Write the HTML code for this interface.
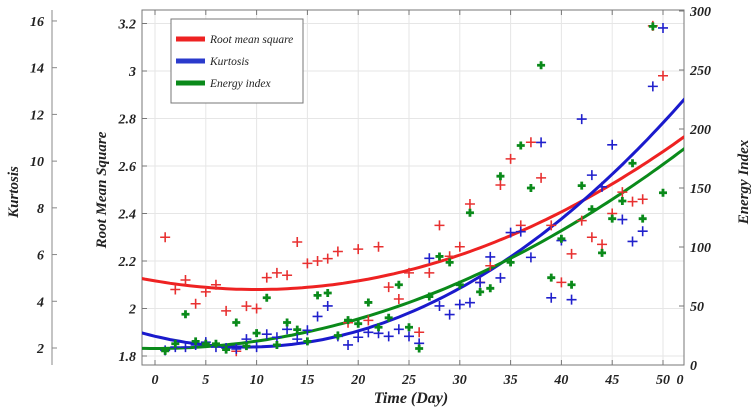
<!DOCTYPE html>
<html><head><meta charset="utf-8"><style>
body{margin:0;background:#fff}
svg{display:block;font-family:"Liberation Serif",serif;font-style:italic;font-weight:bold}
</style></head><body>
<svg id="c" width="756" height="410" viewBox="0 0 756 410"></svg>
<script>
const days=[1,2,3,4,5,6,7,8,9,10,11,12,13,14,15,16,17,18,19,20,21,22,23,24,25,26,27,28,29,30,31,32,33,34,35,36,37,38,39,40,41,42,43,44,45,46,47,48,49,50];
const rmsVals=[2.30,2.08,2.12,2.02,2.07,2.10,1.99,1.82,2.01,2.00,2.13,2.15,2.14,2.28,2.19,2.20,2.21,2.24,1.94,2.25,1.95,2.26,2.09,2.04,2.15,1.90,2.15,2.35,2.22,2.26,2.44,2.11,2.18,2.52,2.63,2.35,2.70,2.55,2.35,2.11,2.23,2.37,2.30,2.27,2.40,2.49,2.45,2.46,3.19,2.98];
const kurtVals=[1.9,2.04,2.04,2.13,2.25,2.04,2.0,1.96,2.38,2.04,2.59,2.46,2.8,2.38,2.76,3.35,3.8,2.5,2.13,2.46,2.67,2.63,2.5,2.8,2.5,2.2,5.84,3.8,3.43,3.86,3.94,4.8,5.9,5.0,6.94,6.98,5.88,10.8,4.15,6.6,4.07,11.8,9.4,8.9,10.7,7.5,6.56,7.0,13.2,15.7];
const energyVals=[12,18,43,20,18,18,13,36,16,27,57,17,36,30,20,59,61,25,38,35,53,32,40,68,32,14,58,92,87,68,129,62,65,160,87,186,150,254,74,107,68,152,132,95,124,139,171,124,287,146];
// quadratic fit coefficients [vertexDay, vertexValue, curvature]
const rmsFit=[10,2.08,0.000363];
const kurtFit=[9,2.04,0.00571];
const energyFit=[0,14,0.0624];
const xTicks=[0,5,10,15,20,25,30,35,40,45,50];
const rmsTicks=[1.8,2,2.2,2.4,2.6,2.8,3,3.2];
const kurtTicks=[2,4,6,8,10,12,14,16];
const energyTicks=[0,50,100,150,200,250,300];

const L=142,R=684,T=10,B=365;
const X=d=>155+d*10.16;
const YR=v=>356-(v-1.8)*237.5;
const YK=k=>348-(k-2)*23.36;
const YE=e=>365-e*1.18;
const svg=document.getElementById('c');
const NS='http://www.w3.org/2000/svg';
function mk(t,a,p){const e=document.createElementNS(NS,t);for(const k in a)e.setAttribute(k,a[k]);(p||svg).appendChild(e);return e;}
function txt(s,x,y,a,p){const e=mk('text',Object.assign({x:x,y:y},a||{}),p);e.textContent=s;return e;}

xTicks.forEach(d=>{const g=mk('line',{x1:X(d),x2:X(d),y1:T,y2:B,stroke:'#e6e6e6'});

});
rmsTicks.forEach(v=>{const g=mk('line',{x1:L,x2:R,y1:YR(v),y2:YR(v),stroke:'#e6e6e6'});

});
const fr=mk('rect',{x:L,y:T,width:R-L,height:B-T,fill:'none',stroke:'#777'});



xTicks.forEach(d=>{mk('line',{x1:X(d),x2:X(d),y1:B,y2:B-5,stroke:'#777'});mk('line',{x1:X(d),x2:X(d),y1:T,y2:T+5,stroke:'#777'});
const t=txt(d,X(d),384,{'text-anchor':'middle','font-size':14,fill:'#222'});

});
txt('0',680,384,{'text-anchor':'middle','font-size':14,fill:'#222'});
const xt=txt('Time (Day)',411,403,{'text-anchor':'middle','font-size':16,fill:'#222'});



rmsTicks.forEach(v=>{mk('line',{x1:L,x2:L+5,y1:YR(v),y2:YR(v),stroke:'#777'});
const t=txt(String(v),136,YR(v)+5,{'text-anchor':'end','font-size':14,fill:'#222'});

});
const rt=txt('Root Mean Square',0,0,{'text-anchor':'middle','font-size':15,fill:'#222',transform:'translate(106,190) rotate(-90)'});



mk('line',{x1:52,x2:52,y1:10,y2:365,stroke:'#888'});
kurtTicks.forEach(k=>{mk('line',{x1:52,x2:57,y1:YK(k),y2:YK(k),stroke:'#888'});
const t=txt(k,44,YK(k)+5,{'text-anchor':'end','font-size':14,fill:'#222'});

});
const kt=txt('Kurtosis',0,0,{'text-anchor':'middle','font-size':15,fill:'#222',transform:'translate(18,192) rotate(-90)'});



energyTicks.forEach(e=>{mk('line',{x1:R,x2:R-5,y1:YE(e),y2:YE(e),stroke:'#777'});
const t=txt(e,690,YE(e)+5,{'font-size':14,fill:'#222'});

});
const et=txt('Energy Index',0,0,{'text-anchor':'middle','font-size':15,fill:'#222',transform:'translate(748,182) rotate(-90)'});



const clip=mk('clipPath',{id:'cp'});mk('rect',{x:L,y:T,width:R-L,height:B-T},clip);
const g=mk('g',{'clip-path':'url(#cp)'});
function fitPath(f,Y,col,name){let d='';for(let x=-1.5;x<=52.5;x+=0.5){const v=f[1]+f[2]*(x-f[0])*(x-f[0]);d+=(d?'L':'M')+X(x).toFixed(1)+','+Y(v).toFixed(1);}
const p=mk('path',{d:d,fill:'none',stroke:col,'stroke-width':3},g);

}
function pts(vals,Y,col,w,s,name){vals.forEach((v,i)=>{const x=X(days[i]),y=Y(v);
const p=mk('path',{d:`M${x-s},${y}H${x+s}M${x},${y-s}V${y+s}`,stroke:col,'stroke-width':w},g);

});}
fitPath(rmsFit,YR,'#ee2222','rms-fit-line');
fitPath(kurtFit,YK,'#1a1acc','kurtosis-fit-line');
fitPath(energyFit,YE,'#0a8a1a','energy-fit-line');
pts(rmsVals,YR,'#e83030',1.6,5,'rms-point');
pts(kurtVals,YK,'#2020cc',1.6,5,'kurtosis-point');
pts(energyVals,YE,'#0a8a1a',2.8,4,'energy-point');

const lg=mk('g',{});


mk('rect',{x:171,y:19,width:132,height:84,fill:'#fff',stroke:'#777'},lg);
[['Root mean square','#ee2222',39],['Kurtosis','#2a3acc',61],['Energy index','#0a8a1a',83]].forEach(([s,c,y])=>{
mk('line',{x1:176,x2:205,y1:y,y2:y,stroke:c,'stroke-width':5},lg);
const t=txt(s,210,y+4,{'font-size':11.5,fill:'#222','font-weight':'normal'},lg);

});
</script>
</body></html>
